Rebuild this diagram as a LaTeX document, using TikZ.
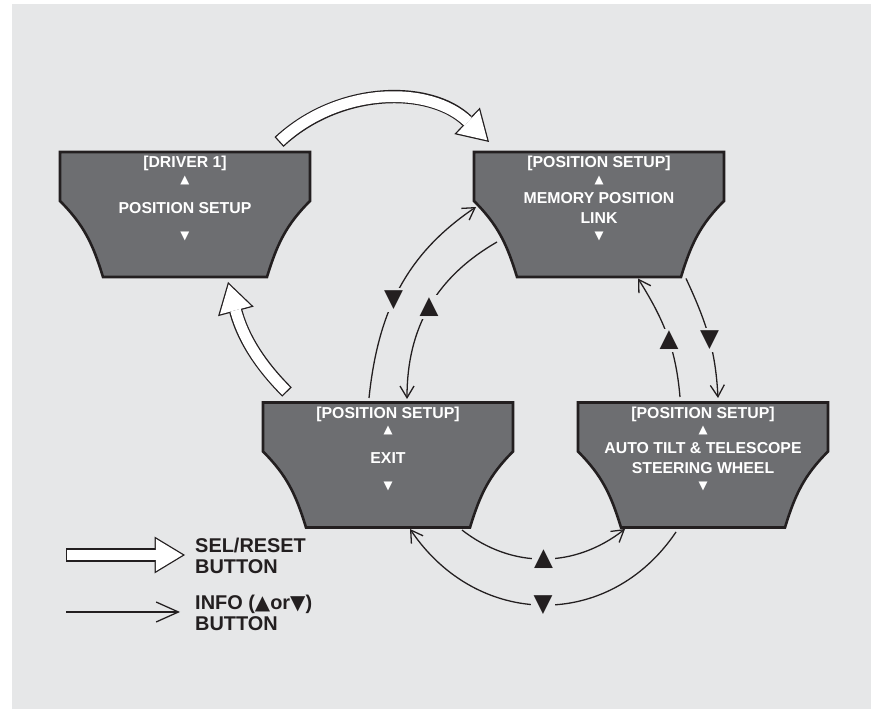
\documentclass[tikz,border=0pt]{standalone}
\usepackage{fontspec}
\setmainfont{Liberation Sans}
\newfontfamily\dvs{DejaVu Sans}
\usetikzlibrary{arrows.meta,calc}
\definecolor{bggray}{HTML}{E6E7E8}
\definecolor{scrgray}{HTML}{6D6E71}
\definecolor{dark}{HTML}{231F20}
\tikzset{
  screen/.style={minimum width=7.59cm, minimum height=3.84cm, inner sep=0pt,
    path picture={\draw[fill=scrgray, draw=dark, line width=2.2pt]
      ([shift={(1.5,-1.5)}]path picture bounding box.north west) -- ++(0,-49)
      to[out=-45,in=107] ++(43,-76) -- ++(164,0) to[out=73,in=225] ++(43,76)
      -- ++(0,49) -- cycle;}},
  scrtext/.style={text=white, font=\bfseries\fontsize{13.5}{17}\selectfont, align=center, inner sep=0pt},
  scrtitle/.style={scrtext, text height=9.6pt, text depth=0pt},
  scrmark/.style={text=white, font=\dvs\fontsize{10}{10}\selectfont, inner sep=0pt},
  bigmark/.style={text=dark, font=\dvs\fontsize{21}{21}\selectfont, fill=bggray, inner sep=2pt},
  legend/.style={anchor=west, align=left, text=dark, font=\bfseries\fontsize{17}{18}\selectfont, inner sep=0pt},
  info/.style={draw=dark, line width=1.1pt, -{Straight Barb[length=10pt,width=12pt]}},
  infokey/.style={info, -{Straight Barb[length=19pt,width=17pt]}},
  sel/.style={draw=white, line width=9.2pt, shorten <=1.1pt, shorten >=2.1pt,
    -{Triangle[length=22.8pt,width=27.6pt,line width=0pt]},
    preaction={draw=dark, line width=11.4pt, shorten <=0pt, shorten >=0pt,
      -{Triangle[length=26pt,width=31.5pt,line width=0pt]}}}
}

\begin{document}
\begin{tikzpicture}[x=0.03cm, y=0.03cm]
  \useasboundingbox (0,0) rectangle (871,709);
  \fill[white] (0,0) rectangle (871,709);
  \fill[bggray] (12,0) rectangle (871,705);

  % screens
  \node[screen] (b1) at (185,494.5) {};
  \node[scrtitle] (b1t) at ($(b1)+(0,52.5)$) {[DRIVER 1]};
  \node[scrmark] (b1u) at ($(b1)+(0,34.5)$) {▲};
  \node[scrtext] (b1m) at ($(b1)+(0,6.5)$) {POSITION SETUP};
  \node[scrmark] (b1d) at ($(b1)+(0,-21.5)$) {▼};

  \node[screen] (b2) at (599,494.5) {};
  \node[scrtitle] (b2t) at ($(b2)+(0,52.5)$) {[POSITION SETUP]};
  \node[scrmark] (b2u) at ($(b2)+(0,34.5)$) {▲};
  \node[scrtext] (b2m) at ($(b2)+(0,6.5)$) {MEMORY POSITION\\LINK};
  \node[scrmark] (b2d) at ($(b2)+(0,-21.5)$) {▼};

  \node[screen] (b3) at (388,244) {};
  \node[scrtitle] (b3t) at ($(b3)+(0,52.5)$) {[POSITION SETUP]};
  \node[scrmark] (b3u) at ($(b3)+(0,34.5)$) {▲};
  \node[scrtext] (b3m) at ($(b3)+(0,7)$) {EXIT};
  \node[scrmark] (b3d) at ($(b3)+(0,-21.5)$) {▼};

  \node[screen] (b4) at (703,244) {};
  \node[scrtitle] (b4t) at ($(b4)+(0,52.5)$) {[POSITION SETUP]};
  \node[scrmark] (b4u) at ($(b4)+(0,34.5)$) {▲};
  \node[scrtext] (b4m) at ($(b4)+(0,7)$) {AUTO TILT \& TELESCOPE\\STEERING WHEEL};
  \node[scrmark] (b4d) at ($(b4)+(0,-21.5)$) {▼};

  % SEL/RESET
  \draw[sel] ($(b1)+(94,72.5)$) to[out=43,in=136] ($(b2)+(-110,72.5)$);
  \draw[sel] ($(b3)+(-101,73)$) to[out=135,in=-75] ($(b1)+(43,-67.5)$);

  % INFO
  \draw[info] ($(b3)+(-19,67)$) to[out=84,in=214] node[bigmark, pos=0.44] (m1) {▼} ($(b2)+(-123,7.5)$);
  \draw[info] ($(b2)+(-102,-27.5)$) to[out=210,in=90] node[bigmark, pos=0.5] (m2) {▲} ($(b3)+(19,66)$);
  \draw[info] ($(b4)+(-23,68)$) to[out=95,in=-58] node[bigmark, pos=0.45] (m3) {▲} ($(b2)+(39,-64)$);
  \draw[info] ($(b2)+(87,-64)$) to[out=-65,in=93] node[bigmark, pos=0.53] (m4) {▼} ($(b4)+(15,67)$);
  \draw[info] ($(b3)+(74,-65)$) to[out=-38,in=218] node[bigmark, pos=0.5] (m5) {▲} ($(b4)+(-78,-64)$);
  \draw[info] ($(b4)+(-27,-67)$) to[out=236,in=-56,looseness=1.15] node[bigmark, pos=0.5] (m6) {▼} ($(b3)+(22,-64)$);

  % legend
  \coordinate (selA) at (66,154);
  \coordinate (selB) at (185,154);
  \draw[sel] (selA) -- (selB);
  \node[legend] (selL) at (195,153.5) {SEL/RESET\\BUTTON};
  \coordinate (infoA) at (66,97);
  \coordinate (infoB) at (180,97);
  \draw[infokey] (infoA) -- (infoB);
  \node[legend] (infoL) at (195,96.5) {INFO ({\dvs ▲}or{\dvs ▼})\\BUTTON};
\end{tikzpicture}
\end{document}
